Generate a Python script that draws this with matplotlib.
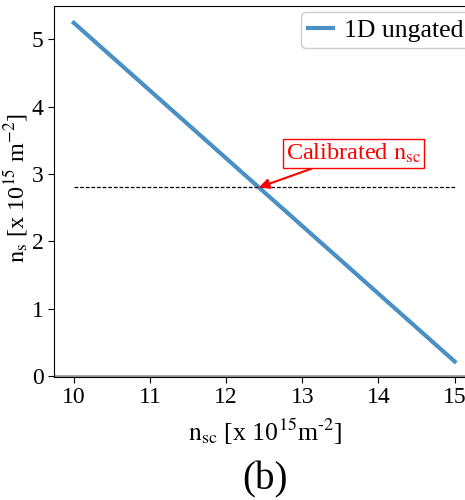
import matplotlib
matplotlib.use("Agg")
import matplotlib.pyplot as plt

plt.rcParams["font.family"] = "Liberation Serif"
plt.rcParams["mathtext.fontset"] = "stix"

# sheet density n_s versus scattering-center density n_sc
n_sc = [10.0, 15.0]
n_s = [5.24, 0.22]
calibrated_ns = 2.80
calibrated_nsc = 12.43
x_ticks = [10, 11, 12, 13, 14, 15]
y_ticks = [0, 1, 2, 3, 4, 5]

fig = plt.figure(figsize=(4.65, 5.0), dpi=100)
ax = fig.add_axes([54 / 465, 123 / 500, (476 - 54) / 465, 371 / 500])

ax.plot(n_sc, n_s, color="#4a90c4", lw=3, label="1D ungated")
ax.plot([n_sc[0], n_sc[1]], [calibrated_ns, calibrated_ns], color="black",
        lw=0.9, ls=(0, (3, 1.5)))
ax.axhline(0, color="gray", lw=2, alpha=0.8)

ax.annotate(r"Calibrated $\mathrm{n_{sc}}$", xy=(calibrated_nsc, calibrated_ns),
            xytext=(12.79, 3.13), ha="left", va="bottom", color="red",
            fontsize=17.5,
            bbox=dict(boxstyle="square,pad=0.12", fc="white", ec="red", lw=1),
            arrowprops=dict(arrowstyle="-|>", color="red", lw=1.5,
                            mutation_scale=15, shrinkA=0, shrinkB=0))

ax.set_xlim(9.74, 15.28)
ax.set_ylim(-0.01, 5.49)
ax.set_xticks(x_ticks)
ax.set_yticks(y_ticks)
ax.tick_params(labelsize=17, length=4)
ax.spines["right"].set_visible(False)

ax.set_xlabel(r"$\mathrm{n_{sc}}$ [x 10$^{15}$m$^{\text{-}2}$]", fontsize=18.5, labelpad=6)
ax.set_ylabel(r"$\mathrm{n_{s}}$ [x 10$^{15}$ m$^{-2}$]", fontsize=17.5)
ax.yaxis.set_label_coords((30 - 54) / 422, 0.51)

leg = ax.legend(loc="upper right", fontsize=18.5, framealpha=1,
                handlelength=1.0, handletextpad=0.4, borderaxespad=0.25,
                borderpad=0.25)

fig.text(265 / 465, 1 - 480 / 500, "(b)", fontsize=28, ha="center",
         va="center")

fig.savefig("out.png", dpi=100)
